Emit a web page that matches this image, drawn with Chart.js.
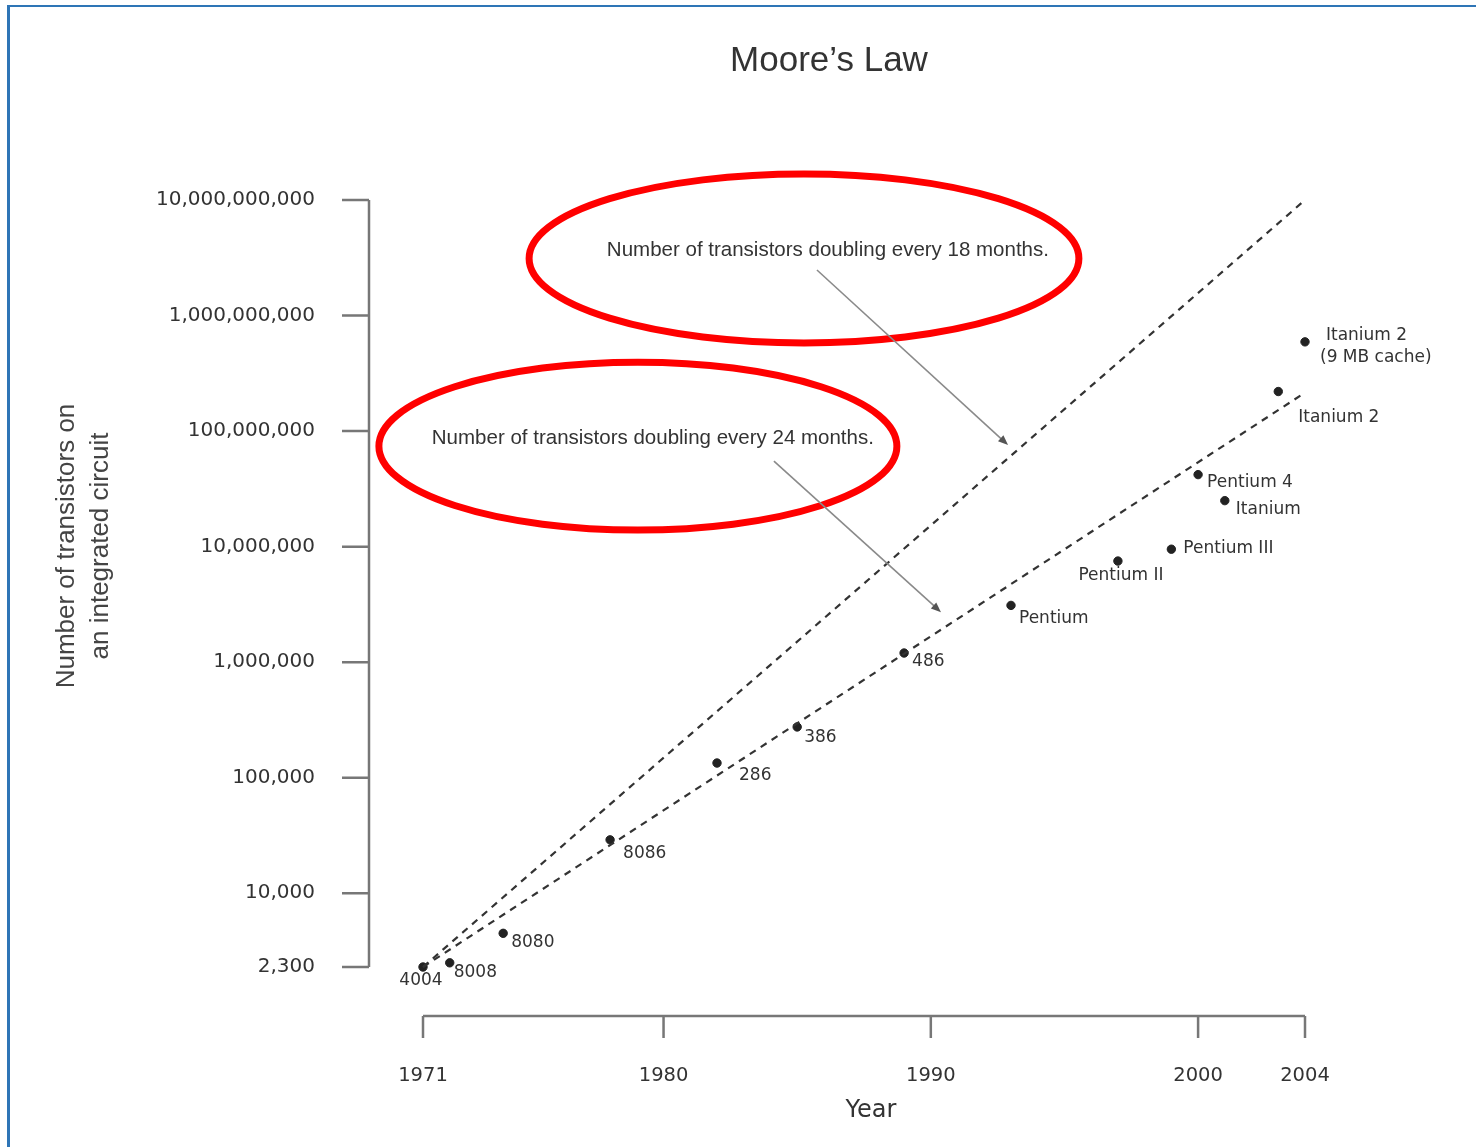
<!DOCTYPE html>
<html>
<head>
<meta charset="utf-8">
<title>Moore's Law</title>
<script src="https://cdn.jsdelivr.net/npm/chart.js@4.4.1/dist/chart.umd.min.js"></script>
<style>
  html, body { margin: 0; padding: 0; background: #fff; overflow: hidden; }
  #wrap { position: relative; width: 1476px; height: 1147px; }
  #frame { position: absolute; left: 7px; top: 5px; right: -10px; bottom: -10px;
           border-left: 3px solid #2e75b6; border-top: 2px solid #2e75b6; pointer-events: none; }
  canvas { position: absolute; left: 0; top: 0; }
</style>
</head>
<body>
<div id="wrap">
  <canvas id="moore" width="1476" height="1147"></canvas>
  <div id="frame"></div>
</div>
<script>
// chips and transistor counts
const chips = ["4004", "8008", "8080", "8086", "286", "386", "486", "Pentium",
  "Pentium II", "Pentium III", "Pentium 4", "Itanium", "Itanium 2", "Itanium 2\n(9 MB cache)"];
const years = [1971, 1972, 1974, 1978, 1982, 1985, 1989, 1993, 1997, 1999, 2000, 2001, 2003, 2004];
const transistors = [2300, 2500, 4500, 29000, 134000, 275000, 1200000, 3100000,
  7500000, 9500000, 42000000, 25000000, 220000000, 592000000];

// trend lines: value at the first and last year
const trendYears = [1971, 2004];
const trend18 = [2300, 10000000000];
const trend24 = [2300, 215000000];

const yTicks = [2300, 10000, 100000, 1000000, 10000000, 100000000, 1000000000, 10000000000];
const xTicks = [1971, 1980, 1990, 2000, 2004];

// label placement around each dot (px offsets, style only)
const labelPos = [
  { dx: -2, dy: 14, align: "center" }, { dx: 4, dy: 10, align: "left" },
  { dx: 8, dy: 9, align: "left" }, { dx: 13, dy: 14, align: "left" },
  { dx: 22, dy: 13, align: "left" }, { dx: 7, dy: 11, align: "left" },
  { dx: 8, dy: 9, align: "left" }, { dx: 8, dy: 13, align: "left" },
  { dx: 3, dy: 15, align: "center" }, { dx: 12, dy: -1, align: "left" },
  { dx: 9, dy: 8, align: "left" }, { dx: 11, dy: 9, align: "left" },
  { dx: 20, dy: 26, align: "left" }, { dx: [21, 15], dy: -6, align: "left" }
];

// callouts, in data coordinates
const callouts = [
  { text: "Number of transistors doubling every 18 months.", at: [1986.15, 3.7e9],
    box: [1974.97, 1995.54, 1.68e10, 5.8e8], from: [1985.74, 2.48e9], to: [1992.89, 7.57e7] },
  { text: "Number of transistors doubling every 24 months.", at: [1979.6, 8.7e7],
    box: [1969.35, 1988.73, 3.95e8, 1.39e7], from: [1984.13, 5.5e7], to: [1990.38, 2.71e6] }
];

function pts(xs, ys) { return xs.map((v, i) => ({ x: v, y: ys[i] })); }

const decorations = {
  id: "decorations",
  beforeDatasetsDraw(chart) {
    const { ctx, chartArea, scales: { x, y } } = chart;
    ctx.save();
    ctx.strokeStyle = "#777";
    ctx.lineWidth = 2.5;
    // y axis, pulled away from the plot
    const ax = chartArea.left - 54;
    ctx.beginPath();
    ctx.moveTo(ax, y.getPixelForValue(yTicks[0]));
    ctx.lineTo(ax, y.getPixelForValue(yTicks[yTicks.length - 1]));
    yTicks.forEach(v => {
      const p = y.getPixelForValue(v);
      ctx.moveTo(ax - 27, p);
      ctx.lineTo(ax, p);
    });
    ctx.stroke();
    // x axis
    const ay = chartArea.bottom + 49;
    ctx.beginPath();
    ctx.moveTo(x.getPixelForValue(xTicks[0]), ay);
    ctx.lineTo(x.getPixelForValue(xTicks[xTicks.length - 1]), ay);
    xTicks.forEach(v => {
      const p = x.getPixelForValue(v);
      ctx.moveTo(p, ay);
      ctx.lineTo(p, ay + 22);
    });
    ctx.stroke();
    ctx.restore();
  },
  afterDatasetsDraw(chart) {
    const { ctx, scales: { x, y } } = chart;
    ctx.save();
    ctx.fillStyle = "#333";
    ctx.textAlign = "center";
    ctx.textBaseline = "middle";
    ctx.font = "35px 'Liberation Sans'";
    ctx.fillText("Moore\u2019s Law", 829, 61);

    ctx.font = "24px 'DejaVu Sans'";
    ctx.fillText("Year", 871, 1111);

    ctx.save();
    ctx.translate(84, 546);
    ctx.rotate(-Math.PI / 2);
    ctx.font = "26px 'Liberation Sans'";
    ctx.fillStyle = "#444";
    ctx.fillText("Number of transistors on", 0, -17);
    ctx.fillText("an integrated circuit", 0, 17);
    ctx.restore();

    // dot labels
    ctx.font = "17px 'DejaVu Sans'";
    ctx.fillStyle = "#333";
    chips.forEach((name, i) => {
      const lp = labelPos[i];
      const px = x.getPixelForValue(years[i]);
      const py = y.getPixelForValue(transistors[i]);
      ctx.textAlign = lp.align;
      name.split("\n").forEach((line, k) => {
        const dx = Array.isArray(lp.dx) ? lp.dx[k] : lp.dx;
        ctx.fillText(line, px + dx, py + lp.dy + k * 22);
      });
    });

    // callouts
    callouts.forEach(c => {
      const x0 = x.getPixelForValue(c.box[0]), x1 = x.getPixelForValue(c.box[1]);
      const y0 = y.getPixelForValue(c.box[2]), y1 = y.getPixelForValue(c.box[3]);
      ctx.beginPath();
      ctx.ellipse((x0 + x1) / 2, (y0 + y1) / 2, (x1 - x0) / 2, (y1 - y0) / 2, 0, 0, Math.PI * 2);
      ctx.strokeStyle = "#ff0000";
      ctx.lineWidth = 7;
      ctx.stroke();

      ctx.font = "20.5px 'Liberation Sans'";
      ctx.fillStyle = "#333";
      ctx.textAlign = "center";
      ctx.fillText(c.text, x.getPixelForValue(c.at[0]), y.getPixelForValue(c.at[1]));

      const sx = x.getPixelForValue(c.from[0]), sy = y.getPixelForValue(c.from[1]);
      const tx = x.getPixelForValue(c.to[0]), ty = y.getPixelForValue(c.to[1]);
      const ang = Math.atan2(ty - sy, tx - sx);
      ctx.strokeStyle = "#8a8a8a";
      ctx.lineWidth = 1.6;
      ctx.beginPath();
      ctx.moveTo(sx, sy);
      ctx.lineTo(tx - 7 * Math.cos(ang), ty - 7 * Math.sin(ang));
      ctx.stroke();
      ctx.fillStyle = "#555";
      ctx.beginPath();
      ctx.moveTo(tx, ty);
      ctx.lineTo(tx - 10 * Math.cos(ang) + 4 * Math.sin(ang), ty - 10 * Math.sin(ang) - 4 * Math.cos(ang));
      ctx.lineTo(tx - 10 * Math.cos(ang) - 4 * Math.sin(ang), ty - 10 * Math.sin(ang) + 4 * Math.cos(ang));
      ctx.closePath();
      ctx.fill();
    });
    ctx.restore();
  }
};

const ctx = document.getElementById("moore").getContext("2d");
const mooreChart = new Chart(ctx, {
  type: "scatter",
  data: {
    datasets: [
      {
        label: "18 months",
        data: pts(trendYears, trend18),
        showLine: true,
        clip: false,
        borderColor: "#333",
        borderWidth: 2.2,
        borderDash: [7, 6],
        pointRadius: 0
      },
      {
        label: "24 months",
        data: pts(trendYears, trend24),
        showLine: true,
        clip: false,
        borderColor: "#333",
        borderWidth: 2.2,
        borderDash: [7, 6],
        pointRadius: 0
      },
      {
        label: "Intel chips",
        data: pts(years, transistors),
        clip: false,
        backgroundColor: "#222",
        borderColor: "#222",
        pointRadius: 4.2
      }
    ]
  },
  options: {
    responsive: false,
    animation: false,
    layout: { padding: { top: 200, left: 0, right: 171, bottom: 0 } },
    plugins: {
      legend: { display: false },
      tooltip: { enabled: false }
    },
    scales: {
      x: {
        type: "linear",
        min: 1971,
        max: 2004,
        grid: { display: false, drawTicks: false },
        border: { display: false },
        afterFit: function (scale) { scale.height = 180; },
        afterBuildTicks: function (scale) { scale.ticks = xTicks.map(v => ({ value: v })); },
        ticks: {
          autoSkip: false,
          maxRotation: 0,
          padding: 97,
          color: "#333",
          font: { family: "'DejaVu Sans'", size: 19.5 },
          callback: function (v) { return String(v); }
        }
      },
      y: {
        type: "logarithmic",
        min: 2300,
        max: 10000000000,
        grid: { display: false, drawTicks: false },
        border: { display: false },
        afterFit: function (scale) { scale.width = 423; },
        afterBuildTicks: function (scale) { scale.ticks = yTicks.map(v => ({ value: v })); },
        ticks: {
          padding: 108,
          color: "#333",
          font: { family: "'DejaVu Sans'", size: 20 },
          callback: function (v) { return Number(v).toLocaleString("en-US"); }
        }
      }
    }
  },
  plugins: [decorations]
});
</script>
</body>
</html>
